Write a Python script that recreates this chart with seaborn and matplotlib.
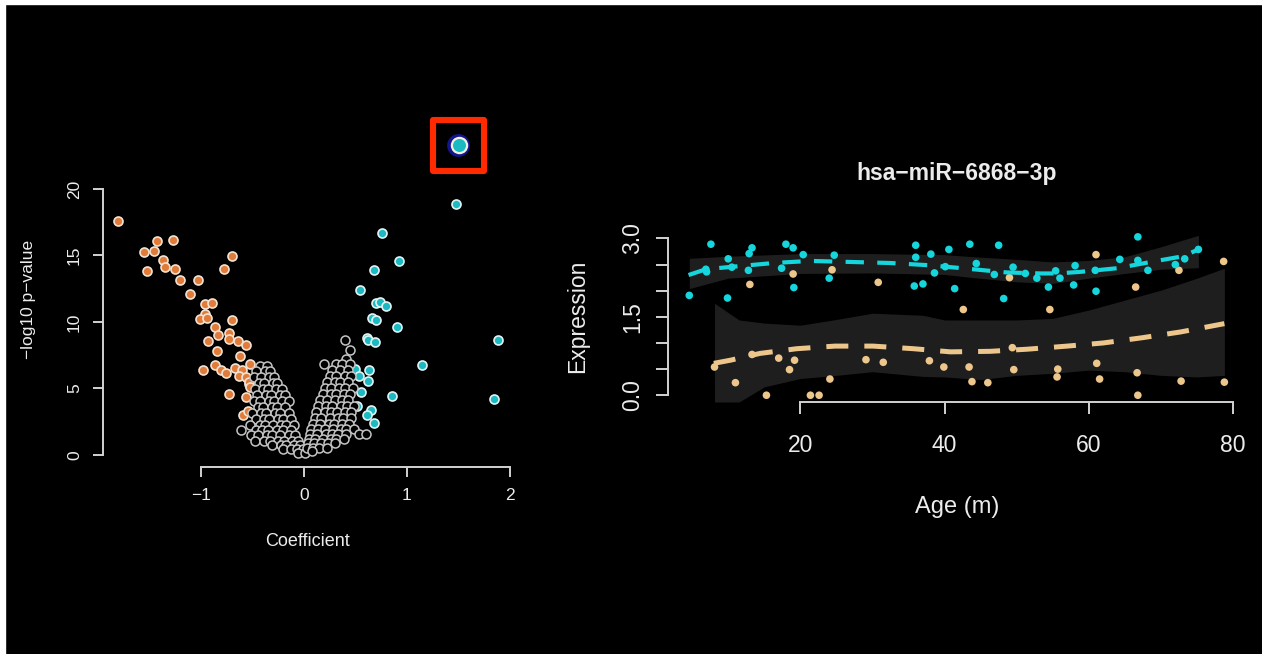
import numpy as np
import pandas as pd
import seaborn as sns
import matplotlib
matplotlib.use('Agg')
import matplotlib.pyplot as plt
from matplotlib.patches import Rectangle

# ---- volcano plot data (coefficient, -log10 p) ----
# grey cloud, written row by row: (y, [x values])
grey_left_rows = [
    (6.7, [-0.43, -0.36]),
    (6.3, [-0.47, -0.38, -0.33]),
    (5.85, [-0.49, -0.42, -0.34, -0.29]),
    (5.4, [-0.44, -0.39, -0.30, -0.26]),
    (4.95, [-0.48, -0.40, -0.35, -0.27, -0.21]),
    (4.5, [-0.46, -0.37, -0.32, -0.23, -0.18]),
    (4.05, [-0.49, -0.43, -0.34, -0.29, -0.21, -0.15]),
    (3.6, [-0.45, -0.40, -0.31, -0.26, -0.18]),
    (3.15, [-0.50, -0.42, -0.37, -0.28, -0.23, -0.15]),
    (2.7, [-0.47, -0.39, -0.34, -0.25, -0.20, -0.13]),
    (2.25, [-0.52, -0.43, -0.38, -0.30, -0.22, -0.17, -0.10]),
    (1.85, [-0.61, -0.47, -0.41, -0.35, -0.26, -0.20, -0.13]),
    (1.45, [-0.51, -0.45, -0.36, -0.31, -0.23, -0.15, -0.09]),
    (1.05, [-0.48, -0.39, -0.33, -0.25, -0.19, -0.12, -0.06]),
    (0.7, [-0.31, -0.22, -0.17, -0.10, -0.04]),
    (0.4, [-0.20, -0.13, -0.07, -0.01]),
    (0.15, [-0.06, 0.01]),
]
grey_right_rows = [
    (8.65, [0.40]),
    (7.9, [0.45]),
    (7.2, [0.41]),
    (6.8, [0.19, 0.31, 0.37, 0.45]),
    (6.35, [0.27, 0.35, 0.43]),
    (5.9, [0.25, 0.31, 0.40, 0.46]),
    (5.45, [0.22, 0.30, 0.35, 0.43]),
    (5.0, [0.20, 0.26, 0.34, 0.40, 0.48]),
    (4.55, [0.18, 0.26, 0.31, 0.39, 0.45]),
    (4.1, [0.16, 0.22, 0.30, 0.37, 0.43]),
    (3.65, [0.14, 0.21, 0.27, 0.36, 0.42, 0.49]),
    (3.2, [0.12, 0.20, 0.26, 0.32, 0.40, 0.46]),
    (2.75, [0.11, 0.17, 0.25, 0.33, 0.38, 0.46]),
    (2.3, [0.09, 0.16, 0.24, 0.29, 0.37, 0.44]),
    (1.9, [0.07, 0.14, 0.20, 0.28, 0.36, 0.41, 0.49]),
    (1.55, [0.06, 0.13, 0.21, 0.27, 0.33, 0.41, 0.53, 0.60]),
    (1.2, [0.05, 0.11, 0.18, 0.26, 0.31, 0.39]),
    (0.85, [0.04, 0.10, 0.17, 0.23, 0.30]),
    (0.5, [0.03, 0.09, 0.15, 0.22]),
    (0.25, [0.08]),
]
down_pts = [(-1.81, 17.56), (-1.43, 16.05), (-1.27, 16.15), (-1.55, 15.27), (-1.46, 15.30),
            (-0.70, 14.94), (-1.37, 14.64), (-1.35, 14.14), (-1.52, 13.83), (-1.25, 14.00),
            (-0.78, 13.99), (-1.20, 13.13), (-1.03, 13.13), (-1.11, 12.13), (-0.96, 11.37),
            (-0.89, 11.42), (-0.96, 10.57), (-1.01, 10.21), (-0.94, 10.26), (-0.70, 10.14),
            (-0.86, 9.61), (-0.83, 9.03), (-0.73, 9.18), (-0.73, 8.68), (-0.93, 8.53),
            (-0.64, 8.53), (-0.56, 8.28), (-0.84, 7.77), (-0.62, 7.42), (-0.86, 6.74),
            (-0.98, 6.34), (-0.81, 6.39), (-0.76, 6.16), (-0.67, 6.51), (-0.60, 6.41),
            (-0.52, 6.84), (-0.63, 5.96), (-0.56, 5.83), (-0.53, 5.33), (-0.73, 4.58),
            (-0.56, 4.33), (-0.59, 3.00), (-0.54, 3.27), (-0.53, 5.46), (-0.52, 5.08)]
up_pts = [(1.48, 18.9), (0.76, 16.7), (0.92, 14.6), (0.68, 13.9), (0.54, 12.4), (0.70, 11.4),
          (0.74, 11.5), (0.80, 11.2), (0.66, 10.3), (0.70, 10.1), (0.90, 9.6), (0.61, 8.75),
          (0.62, 8.6), (0.69, 8.45), (1.88, 8.6), (1.15, 6.77), (0.50, 6.47), (0.63, 6.39),
          (0.53, 5.96), (0.62, 5.58), (0.55, 4.70), (0.85, 4.43), (1.845, 4.17), (0.515, 3.70),
          (0.65, 3.40), (0.61, 3.00), (0.68, 2.40)]
hit_pt = [(1.50, 23.27)]

# ---- hsa-miR-6868-3p vs age ----
ctrl_pts = [(4.6, 1.91), (7.6, 2.89), (6.9, 2.41), (9.9, 1.86), (10.0, 2.61), (12.9, 2.71),
            (13.3, 2.82), (12.8, 2.39), (18.0, 2.89), (19.0, 2.82), (17.4, 2.43), (19.1, 2.06),
            (20.4, 2.69), (24.7, 2.68), (24.0, 2.24), (36.0, 2.87), (36.0, 2.64), (38.1, 2.70),
            (38.6, 2.34), (35.8, 2.09), (37.0, 2.13), (40.1, 2.46), (40.6, 2.79), (41.4, 2.04),
            (43.5, 2.89), (44.4, 2.52), (47.5, 2.87), (48.2, 1.85), (46.9, 2.31), (49.5, 2.45),
            (51.2, 2.33), (52.8, 2.24), (54.4, 2.07), (55.4, 2.38), (56.0, 2.24), (57.9, 2.11),
            (58.1, 2.48), (60.9, 2.39), (61.0, 1.99), (64.3, 2.60), (66.8, 3.03), (66.8, 2.58),
            (68.2, 2.39), (72.0, 2.50), (73.3, 2.61), (75.2, 2.79), (10.5, 2.45), (7.0, 2.36)]
case_pts = [(8.1, 0.54), (11.0, 0.24), (13.0, 2.12), (13.3, 0.78), (15.3, 0.0), (17.0, 0.71),
            (18.5, 0.49), (19.2, 0.67), (19.0, 2.32), (21.4, 0.0), (22.6, 0.0), (24.1, 0.31),
            (24.4, 2.40), (29.1, 0.68), (30.8, 2.16), (31.5, 0.63), (37.9, 0.66), (39.9, 0.54),
            (42.6, 1.64), (43.4, 0.54), (43.8, 0.26), (46.0, 0.24), (49.0, 2.25), (49.4, 0.91),
            (49.6, 0.49), (54.6, 1.64), (55.7, 0.50), (55.6, 0.35), (61.0, 2.69), (61.1, 0.61),
            (61.5, 0.31), (66.5, 2.07), (66.7, 0.43), (66.8, 0.0), (72.5, 2.39), (72.8, 0.27),
            (78.7, 2.56), (78.8, 0.25)]

ctrl_fit_age = [4.5, 6.9, 10.7, 16.3, 21.4, 26.9, 32.5, 37.5, 40.1, 44.0, 48.6, 53.3, 55.6,
                58.8, 63.9, 69.4, 73.1, 75.2]
ctrl_fit = [2.30, 2.41, 2.46, 2.53, 2.57, 2.55, 2.53, 2.49, 2.46, 2.41, 2.35, 2.33, 2.33,
            2.36, 2.43, 2.57, 2.66, 2.79]
ctrl_band_age = [4.6, 10, 20, 30, 40, 44, 50, 55, 60, 65, 70, 75.2]
ctrl_band_hi = [2.62, 2.66, 2.71, 2.71, 2.69, 2.65, 2.60, 2.55, 2.58, 2.65, 2.84, 3.06]
ctrl_band_lo = [2.04, 2.24, 2.33, 2.34, 2.31, 2.25, 2.17, 2.14, 2.24, 2.33, 2.41, 2.44]

case_fit_age = [8.0, 10.3, 14.4, 19.5, 24.8, 30.1, 35.7, 40.8, 46.3, 51.4, 57.0, 62.0, 67.4,
                72.7, 78.8]
case_fit = [0.61, 0.67, 0.80, 0.89, 0.94, 0.94, 0.89, 0.83, 0.84, 0.88, 0.94, 1.00, 1.10,
            1.21, 1.37]
case_band_age = [8.1, 11.5, 15, 20, 25, 30, 37, 40, 45, 50, 55, 60, 65, 70, 75, 78.8]
case_band_hi = [1.76, 1.44, 1.38, 1.34, 1.45, 1.57, 1.53, 1.44, 1.44, 1.44, 1.47, 1.63, 1.82,
                2.01, 2.24, 2.43]
case_band_lo = [-0.13, -0.13, 0.16, 0.32, 0.38, 0.45, 0.36, 0.35, 0.30, 0.38, 0.42, 0.48,
                0.45, 0.38, 0.35, 0.38]

sns.set_theme(style='ticks')
plt.rcParams['font.family'] = ['Liberation Sans', 'DejaVu Sans']
plt.rcParams['axes.unicode_minus'] = True

AXC = '#d2d2d2'
TXT = '#ececec'

fig = plt.figure(figsize=(12.62, 6.54), dpi=100, facecolor='black')
fig.patches.append(Rectangle((0, 0), 5 / 1262, 1, transform=fig.transFigure, color='white'))
fig.patches.append(Rectangle((0, 1 - 4 / 654), 1, 4 / 654, transform=fig.transFigure, color='white'))


def style_axis(ax, tick_len, tick_size, pad_x, pad_y):
    ax.set_facecolor('black')
    for s in ['top', 'right']:
        ax.spines[s].set_visible(False)
    for s in ['left', 'bottom']:
        ax.spines[s].set_color(AXC)
        ax.spines[s].set_linewidth(1.4)
    ax.tick_params(axis='both', colors=AXC, labelcolor=TXT, length=tick_len, width=1.4,
                   labelsize=tick_size, direction='out')
    ax.tick_params(axis='x', pad=pad_x)
    ax.tick_params(axis='y', pad=pad_y, labelrotation=90)
    for lab in ax.get_yticklabels():
        lab.set_va('center')


# ----------------- left: volcano -----------------
grey_x, grey_y = [], []
for yy, xs in grey_left_rows + grey_right_rows:
    grey_x += xs
    grey_y += [yy] * len(xs)
grey = pd.DataFrame({'coef': grey_x, 'p': grey_y})
down = pd.DataFrame(down_pts, columns=['coef', 'p'])
up = pd.DataFrame(up_pts, columns=['coef', 'p'])
hit = pd.DataFrame(hit_pt, columns=['coef', 'p'])

ax1 = fig.add_axes([103 / 1262, (654 - 466.7) / 654, 410 / 1262, 333.7 / 654])
sns.scatterplot(data=down, x='coef', y='p', ax=ax1, s=42, color='#e07b39',
                edgecolor='#f3e3d3', linewidth=1.2, zorder=2)
sns.scatterplot(data=up, x='coef', y='p', ax=ax1, s=42, color='#1bb9c1',
                edgecolor='#e3f3f3', linewidth=1.2, zorder=2)
sns.scatterplot(data=grey, x='coef', y='p', ax=ax1, s=42, color='black',
                edgecolor='#c4c4c4', linewidth=1.1, zorder=3)
sns.scatterplot(data=hit, x='coef', y='p', ax=ax1, s=270, color='#14148c',
                edgecolor='none', linewidth=0, zorder=4)
sns.scatterplot(data=hit, x='coef', y='p', ax=ax1, s=120, color='#1bb9c1',
                edgecolor='#f0f0e0', linewidth=1.6, zorder=5)
sns.scatterplot(data=hit, x='coef', y='p', ax=ax1, s=1350, marker='s', facecolor='none',
                edgecolor='#ff2a00', linewidth=4.4, zorder=6, clip_on=False)
ax1.set_xlim(-1.951, 2.029)
ax1.set_ylim(-0.903, 24.21)
ax1.set_xticks([-1, 0, 1, 2])
ax1.set_yticks([0, 5, 10, 15, 20])
ax1.spines['left'].set_bounds(0, 20)
ax1.spines['bottom'].set_bounds(-1, 2)
style_axis(ax1, 7.2, 12.5, 8, 8)
ax1.set_xlabel('Coefficient', fontsize=13, color=TXT, va='center')
ax1.set_ylabel('\u2212log10 p\u2212value', fontsize=12.5, color=TXT, va='center')
ax1.xaxis.set_label_coords(0.5, -0.2248)
ax1.yaxis.set_label_coords(-0.1805, 0.5)

# ----------------- right: expression vs age -----------------
ctrl = pd.DataFrame(ctrl_pts, columns=['age', 'expr'])
case = pd.DataFrame(case_pts, columns=['age', 'expr'])
ctrl_fit_df = pd.DataFrame({'age': ctrl_fit_age, 'expr': ctrl_fit})
case_fit_df = pd.DataFrame({'age': case_fit_age, 'expr': case_fit})

ax2 = fig.add_axes([668 / 1262, (654 - 401.5) / 654, 578 / 1262, 170.9 / 654])
ax2.fill_between(case_band_age, case_band_lo, case_band_hi, color='#1e1e1e', lw=0, zorder=1)
ax2.fill_between(ctrl_band_age, ctrl_band_lo, ctrl_band_hi, color='#1e1e1e', lw=0, zorder=1)
sns.scatterplot(data=case, x='age', y='expr', ax=ax2, s=30, color='#edc68c',
                edgecolor='none', zorder=3)
sns.scatterplot(data=ctrl, x='age', y='expr', ax=ax2, s=30, color='#14d6dc',
                edgecolor='none', zorder=3)
sns.lineplot(data=case_fit_df, x='age', y='expr', ax=ax2, color='#edc68c', lw=3.6,
             sort=False, estimator=None, zorder=4, dashes=False)
sns.lineplot(data=ctrl_fit_df, x='age', y='expr', ax=ax2, color='#14d6dc', lw=3.0,
             sort=False, estimator=None, zorder=4, dashes=False)
ax2.lines[0].set_linestyle((0, (4.4, 3.2)))
ax2.lines[1].set_linestyle((0, (4.4, 3.2)))
ax2.set_xlim(1.65, 81.8)
ax2.set_ylim(-0.12, 3.15)
ax2.set_xticks([20, 40, 60, 80])
ax2.set_yticks([0, 0.5, 1.0, 1.5, 2.0, 2.5, 3.0])
ax2.set_yticklabels(['0.0', '', '', '1.5', '', '', '3.0'])
ax2.spines['left'].set_bounds(0, 3)
ax2.spines['bottom'].set_bounds(20, 80)
style_axis(ax2, 8.6, 16.5, 14.5, 8.5)
ax2.set_xlabel('Age (m)', fontsize=17, color=TXT, va='center')
ax2.set_ylabel('Expression', fontsize=16.5, color=TXT, va='center')
ax2.xaxis.set_label_coords(0.5, -0.6156)
ax2.yaxis.set_label_coords(-0.1557, 0.5)
ax2.set_title('hsa\u2212miR\u22126868\u22123p', fontsize=16.5, fontweight='bold', color=TXT,
              y=1.285, va='center')

fig.savefig('out.png', dpi=100, facecolor='black')
